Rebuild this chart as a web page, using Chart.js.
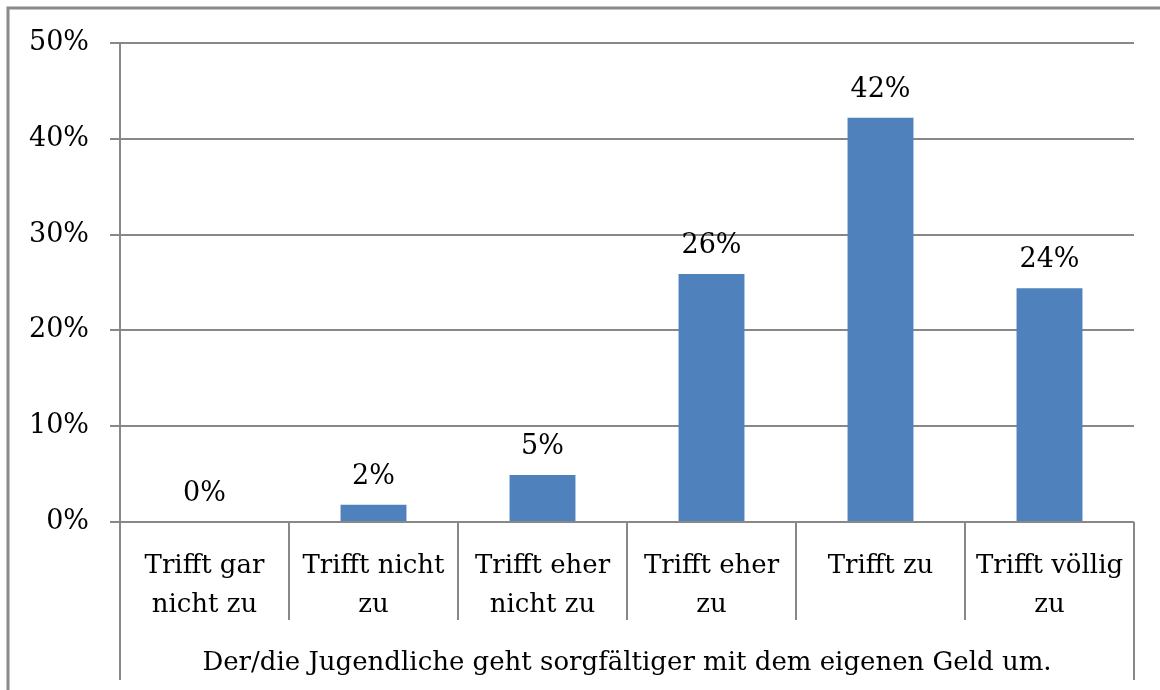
<!DOCTYPE html>
<html>
<head>
<meta charset="utf-8">
<script src="https://cdn.jsdelivr.net/npm/chart.js@4"></script>
<style>
  body { margin: 0; background: #fff; }
  #wrap { width: 1160px; height: 690px; }
</style>
</head>
<body>
<div id="wrap"><canvas id="chart" width="1160" height="690"></canvas></div>
<script>
// Werte (Prozent)
const categories = [
  ['Trifft gar', 'nicht zu'],
  ['Trifft nicht', 'zu'],
  ['Trifft eher', 'nicht zu'],
  ['Trifft eher', 'zu'],
  ['Trifft zu'],
  ['Trifft völlig', 'zu']
];
const values = [0, 1.8, 4.9, 25.9, 42.2, 24.4];
const yTicks = [0, 10, 20, 30, 40, 50];
const axisTitle = 'Der/die Jugendliche geht sorgfältiger mit dem eigenen Geld um.';

const FONT = '"DejaVu Serif", "Liberation Serif", serif';
const LINE = '#888888';

// Rahmen, Kategorietrenner und Werte über den Balken
const extras = {
  id: 'extras',
  beforeDraw(chart) {
    const c = chart.ctx;
    c.save();
    c.fillStyle = '#fff';
    c.fillRect(0, 0, chart.width, chart.height);
    c.strokeStyle = '#8a8a8a';
    c.lineWidth = 3;
    c.beginPath();
    c.moveTo(8, chart.height);
    c.lineTo(8, 8);
    c.lineTo(chart.width, 8);
    c.stroke();
    c.restore();
  },
  afterDraw(chart) {
    const c = chart.ctx;
    const area = chart.chartArea;
    const x = chart.scales.x;
    c.save();
    c.strokeStyle = LINE;
    c.lineWidth = 2;
    c.beginPath();
    for (let i = 1; i < categories.length; i++) {
      const bx = Math.round((x.getPixelForValue(i - 1) + x.getPixelForValue(i)) / 2);
      c.moveTo(bx, area.bottom);
      c.lineTo(bx, 620);
    }
    c.moveTo(area.left, area.bottom);
    c.lineTo(area.left, 680);
    c.moveTo(area.right, area.bottom);
    c.lineTo(area.right, 680);
    c.stroke();

    c.fillStyle = '#000';
    c.font = '27px ' + FONT;
    c.textAlign = 'center';
    c.textBaseline = 'middle';
    const meta = chart.getDatasetMeta(0);
    meta.data.forEach((bar, i) => {
      c.fillText(Math.round(values[i]) + '%', bar.x, bar.y - 28);
    });
    c.restore();
  }
};

new Chart(document.getElementById('chart'), {
  type: 'bar',
  data: {
    labels: categories,
    datasets: [{
      data: values,
      backgroundColor: '#4f81bd',
      borderWidth: 0,
      categoryPercentage: 1,
      barPercentage: 0.39
    }]
  },
  options: {
    responsive: false,
    animation: false,
    layout: { padding: { top: 43, right: 26, left: 0, bottom: 0 } },
    plugins: { legend: { display: false }, tooltip: { enabled: false } },
    scales: {
      x: {
        grid: { display: false },
        border: { display: false },
        ticks: {
          color: '#000',
          font: { family: FONT, size: 26, lineHeight: 1.5 },
          padding: 17,
          maxRotation: 0,
          autoSkip: false
        },
        title: {
          display: true,
          text: axisTitle,
          color: '#000',
          font: { family: FONT, size: 26 },
          padding: { top: 4, bottom: 11 }
        },
        afterFit(scale) { scale.height = 168; }
      },
      y: {
        min: 0,
        max: 50,
        afterBuildTicks(scale) { scale.ticks = yTicks.map(v => ({ value: v })); },
        grid: { color: LINE, lineWidth: 2, tickLength: 10 },
        border: { display: true, color: LINE, width: 2 },
        ticks: {
          color: '#000',
          font: { family: FONT, size: 27 },
          padding: 21,
          callback: v => v + '%'
        },
        afterFit(scale) { scale.width = 120; }
      }
    }
  },
  plugins: [extras]
});
</script>
</body>
</html>
